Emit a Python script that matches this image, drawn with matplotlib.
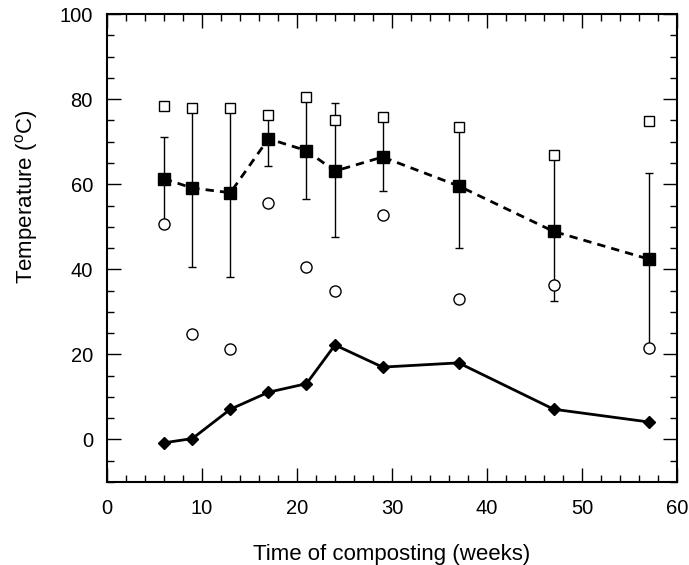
import numpy as np
import matplotlib.pyplot as plt
from matplotlib.ticker import MultipleLocator

plt.rcParams['font.family'] = ['Liberation Sans', 'DejaVu Sans']

# sampling times (weeks)
weeks = [6, 9, 13, 17, 21, 24, 29, 37, 47, 57]

# mean temperature with error bar limits
mean_temp = [61.3, 59.1, 58.0, 70.7, 67.9, 63.1, 66.4, 59.6, 48.9, 42.4]
err_upper = [71.0, 78.0, 78.0, 77.0, 80.5, 79.0, 75.8, 73.4, 66.9, 62.7]
err_lower = [50.7, 40.5, 38.1, 64.3, 56.5, 47.7, 58.5, 44.9, 32.6, 21.4]

# maximum and minimum temperatures
max_temp = [78.4, 77.9, 77.9, 76.3, 80.6, 75.0, 75.8, 73.4, 66.9, 74.9]
min_temp = [50.7, 24.9, 21.2, 55.6, 40.5, 35.0, 52.8, 33.0, 36.3, 21.4]

# ambient temperature
ambient = [-0.8, 0.2, 7.1, 11.1, 13.1, 22.2, 17.0, 18.0, 7.1, 4.1]

fig = plt.figure(figsize=(6.89, 5.65), dpi=100)
ax = fig.add_axes([0.155, 0.147, 0.828, 0.828])

m = np.array(mean_temp)
yerr = [m - np.array(err_lower), np.array(err_upper) - m]
ax.errorbar(weeks, mean_temp, yerr=yerr, fmt='none', ecolor='black',
            elinewidth=1, capsize=3, capthick=1, zorder=2)
ax.plot(weeks, mean_temp, color='black', linestyle=(0, (3, 2.2)), lw=2,
        marker='s', markersize=9, markerfacecolor='black', zorder=3)
ax.plot(weeks, max_temp, linestyle='none', marker='s', markersize=7.5,
        markerfacecolor='white', markeredgecolor='black', markeredgewidth=1, zorder=4)
ax.plot(weeks, min_temp, linestyle='none', marker='o', markersize=8,
        markerfacecolor='white', markeredgecolor='black', markeredgewidth=1, zorder=4)
ax.plot(weeks, ambient, color='black', lw=2, marker='D', markersize=6.5,
        markerfacecolor='black', zorder=3)

ax.set_xlim(0, 60)
ax.set_ylim(-10, 100)
ax.xaxis.set_major_locator(MultipleLocator(10))
ax.xaxis.set_minor_locator(MultipleLocator(2))
ax.yaxis.set_major_locator(MultipleLocator(20))
ax.yaxis.set_minor_locator(MultipleLocator(5))
ax.tick_params(which='both', direction='in', top=True, right=True,
               labelsize=14.5, width=1)
ax.tick_params(axis='x', which='both', pad=12)
ax.tick_params(axis='y', which='both', pad=10)
ax.tick_params(which='major', length=10)
ax.tick_params(which='minor', length=5)
for sp in ax.spines.values():
    sp.set_linewidth(1.5)

ax.set_xlabel('Time of composting (weeks)', fontsize=16, labelpad=19)
ax.set_ylabel('Temperature ($^\\mathregular{o}$C)', fontsize=16)
ax.yaxis.set_label_coords(-0.117, 0.61)

fig.savefig('out.png', dpi=100)
